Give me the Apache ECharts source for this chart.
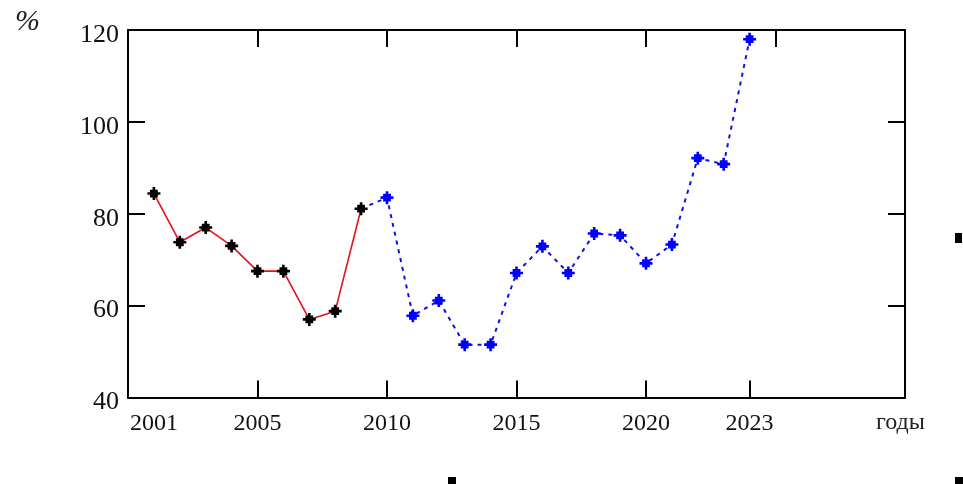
<!DOCTYPE html>
<html>
<head>
<meta charset="utf-8">
<style>
  html, body { margin: 0; padding: 0; background: #fff; }
  #chart { width: 963px; height: 484px; }
</style>
<script src="https://cdn.jsdelivr.net/npm/echarts@6/dist/echarts.min.js"></script>
</head>
<body>
<div id="chart"></div>
<script>
// первый ряд (сплошная красная линия, чёрные точки)
var years1 = [2001, 2002, 2003, 2004, 2005, 2006, 2007, 2008, 2009]
var values1 = [84.4, 73.8, 77.0, 73.0, 67.5, 67.5, 57.0, 58.8, 81.1]
// второй ряд (синяя пунктирная), начинается от точки 2009 года
var years2 = [2009, 2010, 2011, 2012, 2013, 2014, 2015, 2016, 2017, 2018, 2019, 2020, 2021, 2022, 2023, 2024]
var values2 = [81.1, 83.5, 57.8, 61.1, 51.5, 51.5, 67.1, 72.9, 67.1, 75.7, 75.3, 69.2, 73.3, 92.1, 90.8, 118.0]
// подписи оси X (последняя стоит под последней точкой)
var xTickValues = [2001, 2005, 2010, 2015, 2020, 2024]
var xTickLabels = ['2001', '2005', '2010', '2015', '2020', '2023']

var font = 'Liberation Serif'
var marker = 'path://M4,0H6V2H8V4H10V6H8V8H6V10H4V8H2V6H0V4H2V2H4Z'

var data1 = years1.map(function (y, i) { return [y, values1[i]] })
var data2 = years2.map(function (y, i) {
  var p = { value: [y, values2[i]] }
  if (i === 0) p.symbol = 'none'
  return p
})

var chart = echarts.init(document.getElementById('chart'))
chart.setOption({
  backgroundColor: '#fff',
  animation: false,
  grid: { left: 128, top: 30, width: 777, height: 367.5 },
  xAxis: [{
    type: 'value',
    min: 2000,
    max: 2030,
    position: 'bottom',
    splitLine: { show: false },
    axisLine: { lineStyle: { color: '#000', width: 2 } },
    axisTick: {
      inside: true,
      length: 17,
      customValues: xTickValues.slice(1),
      lineStyle: { color: '#000', width: 2 }
    },
    axisLabel: {
      customValues: xTickValues,
      formatter: function (v) {
        var i = xTickValues.indexOf(v)
        return i >= 0 ? xTickLabels[i] : ''
      },
      fontFamily: font,
      fontSize: 24,
      color: '#111',
      margin: 14
    }
  }, {
    type: 'value',
    min: 2000,
    max: 2030,
    interval: 5,
    position: 'top',
    splitLine: { show: false },
    axisLine: { lineStyle: { color: '#000', width: 2 } },
    axisTick: { inside: true, length: 17, lineStyle: { color: '#000', width: 2 } },
    axisLabel: { show: false }
  }],
  yAxis: [{
    type: 'value',
    min: 40,
    max: 120,
    interval: 20,
    position: 'left',
    splitLine: { show: false },
    axisLine: { show: true, lineStyle: { color: '#000', width: 2 } },
    axisTick: { inside: true, length: 17, lineStyle: { color: '#000', width: 2 } },
    axisLabel: { fontFamily: font, fontSize: 26, color: '#111', margin: 9, verticalAlign: 'top', lineHeight: 10 }
  }, {
    type: 'value',
    min: 40,
    max: 120,
    interval: 20,
    position: 'right',
    splitLine: { show: false },
    axisLine: { show: true, lineStyle: { color: '#000', width: 2 } },
    axisTick: { inside: true, length: 17, lineStyle: { color: '#000', width: 2 } },
    axisLabel: { show: false }
  }],
  series: [{
    type: 'line',
    data: data2,
    z: 2,
    symbol: marker,
    symbolSize: 13,
    itemStyle: { color: '#0000ff' },
    lineStyle: { color: '#1010e0', width: 2, type: [4, 5] }
  }, {
    type: 'line',
    data: data1,
    z: 3,
    symbol: marker,
    symbolSize: 13,
    itemStyle: { color: '#000' },
    lineStyle: { color: '#e8101c', width: 1.6 }
  }],
  graphic: [
    { type: 'text', left: 15, top: 7, style: { text: '%', font: 'italic 30px "Liberation Serif"', fill: '#222' } },
    { type: 'text', left: 876, top: 411, style: { text: 'годы', font: '24px "Liberation Serif"', fill: '#222' } },
    { type: 'rect', shape: { x: 955, y: 233, width: 7, height: 10 }, style: { fill: '#000' } },
    { type: 'rect', shape: { x: 448, y: 477, width: 8, height: 7 }, style: { fill: '#000' } },
    { type: 'rect', shape: { x: 955, y: 477, width: 8, height: 7 }, style: { fill: '#000' } }
  ]
})
</script>
</body>
</html>
